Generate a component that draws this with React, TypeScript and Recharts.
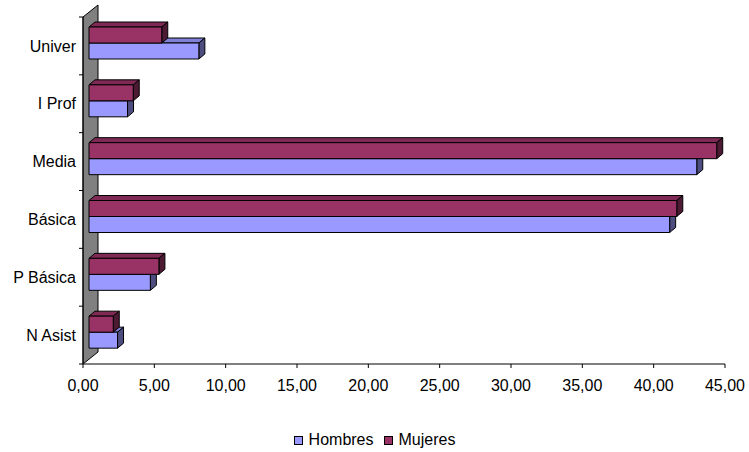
import { Bar, BarChart, Legend, ReferenceArea, XAxis, YAxis } from "recharts";

const categories = ["Univer", "I Prof", "Media", "Básica", "P Básica", "N Asist"];
const hombres = [7.7, 2.7, 42.6, 40.7, 4.3, 2.0];
const mujeres = [5.1, 3.1, 44.0, 41.2, 4.9, 1.7];
const xTicks = [0, 5, 10, 15, 20, 25, 30, 35, 40, 45];

const data = categories.map((name, i) => ({
  name,
  hombres: hombres[i],
  mujeres: mujeres[i],
}));

const W = 749;
const H = 452;
const PLOT_TOP = 17;
const PLOT_LEFT = 83;
const AXIS_Y = 364;
const BAND = (AXIS_Y - PLOT_TOP) / categories.length;
const DX = 6; // 3d depth of the bars
const DY = 5;
const WALL_DX = 15;
const WALL_DY = 12;
const FONT = '"Liberation Sans", Arial, sans-serif';

const colors = {
  hombres: { front: "#9999FF", top: "#8080D6", side: "#4D4D80" },
  mujeres: { front: "#993366", top: "#7F2A55", side: "#4D1A33" },
};

// slot: +1 draws the bar one bar-height lower, -1 one higher
// (so Mujeres sits on top but is painted after Hombres)
function make3DBar(c: { front: string; top: string; side: string }, slot: number) {
  return (props: any) => {
    const { x, y, width, height } = props;
    if (width == null || height == null) return <g />;
    const x0 = x + DX;
    const y0 = y + slot * height - 3;
    const x1 = x0 + width;
    const y1 = y0 + height;
    return (
      <g stroke="#000" strokeWidth={1} strokeLinejoin="round">
        <polygon
          points={`${x0},${y0} ${x0 + DX},${y0 - DY} ${x1 + DX},${y0 - DY} ${x1},${y0}`}
          fill={c.top}
        />
        <polygon
          points={`${x1},${y0} ${x1 + DX},${y0 - DY} ${x1 + DX},${y1 - DY} ${x1},${y1}`}
          fill={c.side}
        />
        <rect x={x0} y={y0} width={width} height={height} fill={c.front} />
      </g>
    );
  };
}

function WallShape(props: any) {
  const { x, y, height } = props;
  const b = y + height;
  return (
    <polygon
      points={`${x},${y} ${x + WALL_DX},${y - WALL_DY} ${x + WALL_DX},${b - WALL_DY} ${x},${b}`}
      fill="#808080"
      stroke="#000"
      strokeWidth={1}
    />
  );
}

function CategoryTick(props: any) {
  const { y, payload, index } = props;
  const top = y - BAND / 2;
  return (
    <g>
      <line x1={PLOT_LEFT - 4} x2={PLOT_LEFT} y1={top} y2={top} stroke="#000" />
      {index === categories.length - 1 && (
        <line
          x1={PLOT_LEFT - 4}
          x2={PLOT_LEFT}
          y1={y + BAND / 2}
          y2={y + BAND / 2}
          stroke="#000"
        />
      )}
      <text
        x={PLOT_LEFT - 7}
        y={y}
        dy="0.35em"
        textAnchor="end"
        fontSize={16}
        fontFamily={FONT}
        fill="#000"
      >
        {payload.value}
      </text>
    </g>
  );
}

function LegendBox() {
  const items = [
    { label: "Hombres", color: colors.hombres.front },
    { label: "Mujeres", color: colors.mujeres.front },
  ];
  return (
    <div
      style={{
        display: "flex",
        justifyContent: "center",
        alignItems: "center",
        fontFamily: FONT,
        fontSize: 16,
        color: "#000",
        lineHeight: "20px",
      }}
    >
      {items.map((it, i) => (
        <div
          key={it.label}
          style={{ display: "flex", alignItems: "center", marginLeft: i ? 10 : 0 }}
        >
          <span
            style={{
              display: "inline-block",
              width: 7,
              height: 7,
              background: it.color,
              border: "1px solid #000",
              marginRight: 6,
            }}
          />
          <span>{it.label}</span>
        </div>
      ))}
    </div>
  );
}

export default function App() {
  return (
    <div style={{ position: "absolute", left: 0, top: 0, width: W, height: H, background: "#fff" }}>
      <BarChart
        width={W}
        height={H}
        data={data}
        layout="vertical"
        barSize={16}
        barGap={0}
        margin={{ top: PLOT_TOP, right: 24, left: 0, bottom: H - AXIS_Y - 30 }}
      >
        <ReferenceArea x1={0} x2={1} shape={WallShape} ifOverflow="visible" />
        <XAxis
          type="number"
          domain={[0, 45]}
          ticks={xTicks}
          interval={0}
          height={30}
          tickFormatter={(v) => Number(v).toFixed(2).replace(".", ",")}
          tick={{ fill: "#000", fontSize: 16, fontFamily: FONT }}
          tickSize={4}
          tickMargin={12}
          stroke="#000"
        />
        <YAxis
          type="category"
          dataKey="name"
          width={PLOT_LEFT}
          tickLine={false}
          tick={<CategoryTick />}
          interval={0}
          stroke="#000"
        />
        <Bar
          dataKey="hombres"
          name="Hombres"
          isAnimationActive={false}
          shape={make3DBar(colors.hombres, 1)}
        />
        <Bar
          dataKey="mujeres"
          name="Mujeres"
          isAnimationActive={false}
          shape={make3DBar(colors.mujeres, -1)}
        />
        <Legend
          verticalAlign="middle"
          align="center"
          layout="horizontal"
          content={<LegendBox />}
          wrapperStyle={{ top: 430, left: 0, width: W, height: 20 }}
        />
      </BarChart>
    </div>
  );
}
